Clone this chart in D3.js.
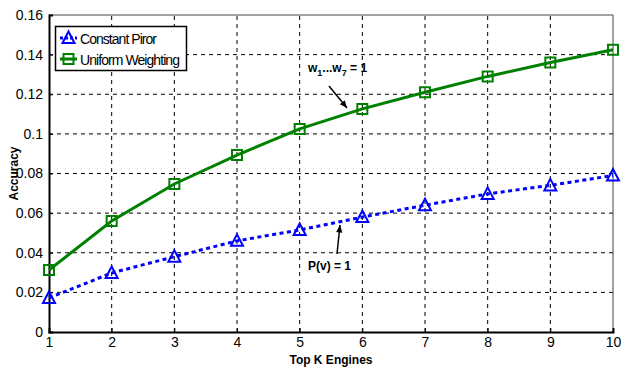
<!DOCTYPE html>
<html><head><meta charset="utf-8">
<script src="https://cdn.jsdelivr.net/npm/d3@7"></script>
<style>body{margin:0;background:#fff}svg{display:block}</style>
</head><body>
<script>
const kValues = [1,2,3,4,5,6,7,8,9,10];
const constantPrior = [0.0172,0.0298,0.038,0.046,0.0515,0.058,0.064,0.0697,0.074,0.079];
const uniformWeighting = [0.0313,0.056,0.0747,0.0893,0.1025,0.1126,0.121,0.129,0.136,0.1425];
const yTicks = [0,0.02,0.04,0.06,0.08,0.1,0.12,0.14,0.16];
const xTicks = [1,2,3,4,5,6,7,8,9,10];
const seriesNames = ["Constant Piror","Uniform Weighting"];

const W=621,H=368;
const m={l:49,r:8,t:15,b:36};
const svg=d3.select("body").append("svg").attr("width",W).attr("height",H);
const x=d3.scaleLinear().domain([1,10]).range([m.l,W-m.r]);
const y=d3.scaleLinear().domain([0,0.16]).range([H-m.b,m.t]);
const font="'Liberation Sans Narrow', 'Liberation Sans', Arial, sans-serif";
const bfont="'Liberation Sans', Arial, sans-serif";

// grid
const g=svg.append("g");
g.selectAll(".gx").data(xTicks.slice(1,-1)).join("line")
 .attr("x1",d=>x(d)).attr("x2",d=>x(d)).attr("y1",y(0)).attr("y2",y(0.16))
 .attr("stroke","#000").attr("stroke-width",1).attr("stroke-dasharray","4,4");
g.selectAll(".gy").data(yTicks.slice(1,-1)).join("line")
 .attr("x1",x(1)).attr("x2",x(10)).attr("y1",d=>y(d)).attr("y2",d=>y(d))
 .attr("stroke","#000").attr("stroke-width",1).attr("stroke-dasharray","4,4");

// frame top/right
svg.append("line").attr("x1",x(1)).attr("x2",x(10)).attr("y1",y(0.16)).attr("y2",y(0.16)).attr("stroke","#444").attr("stroke-width",1);
svg.append("line").attr("x1",x(10)).attr("x2",x(10)).attr("y1",y(0.16)).attr("y2",y(0)).attr("stroke","#444").attr("stroke-width",1);

// axes
const xa=svg.append("g").attr("transform",`translate(0,${y(0)})`)
 .call(d3.axisBottom(x).tickValues(xTicks).tickSize(-4).tickPadding(5).tickFormat(d3.format("d")));
const ya=svg.append("g").attr("transform",`translate(${x(1)},0)`)
 .call(d3.axisLeft(y).tickValues(yTicks).tickSize(-4).tickPadding(6).tickFormat(d=>d===0?"0":String(+d.toFixed(2))));
[xa,ya].forEach(a=>{
 a.select(".domain").attr("stroke","#000").attr("stroke-width",2);
 a.selectAll(".tick line").attr("stroke","#000");
 a.selectAll("text").attr("font-family",font).attr("font-size",14).attr("fill","#000");
});
xa.selectAll("text").attr("dy","0.71em");
ya.selectAll("text").attr("dy","0.32em");

// axis titles
svg.append("text").attr("x",(x(1)+x(10))/2).attr("y",364).attr("text-anchor","middle")
 .attr("font-family",bfont).attr("font-weight","bold").attr("font-size",12).text("Top K Engines");
svg.append("text").attr("transform",`translate(18,${(y(0)+y(0.16))/2}) rotate(-90)`).attr("text-anchor","middle")
 .attr("font-family",bfont).attr("font-weight","bold").attr("font-size",12).text("Accuracy");

// lines
const line=d3.line().x((d,i)=>x(kValues[i])).y(d=>y(d));
svg.append("path").datum(uniformWeighting).attr("d",line).attr("fill","none").attr("stroke","#008000").attr("stroke-width",3);
svg.append("path").datum(constantPrior).attr("d",line).attr("fill","none").attr("stroke","#0000ff").attr("stroke-width",3).attr("stroke-dasharray","4,3.5");

const tri="M0,-6.5L6,5L-6,5Z";
const sq="M-5,-5H5V5H-5Z";
svg.selectAll(".sq").data(uniformWeighting).join("path")
 .attr("transform",(d,i)=>`translate(${x(kValues[i])},${y(d)})`).attr("d",sq)
 .attr("fill","none").attr("stroke","#008000").attr("stroke-width",2);
svg.selectAll(".tr").data(constantPrior).join("path")
 .attr("transform",(d,i)=>`translate(${x(kValues[i])},${y(d)})`).attr("d",tri)
 .attr("fill","none").attr("stroke","#0000ff").attr("stroke-width",2);

// legend
const lg=svg.append("g");
lg.append("rect").attr("x",55.5).attr("y",26.5).attr("width",131).attr("height",44).attr("fill","#fff").attr("stroke","#000").attr("stroke-width",1.5);
lg.append("line").attr("x1",60).attr("x2",77).attr("y1",38).attr("y2",38).attr("stroke","#0000ff").attr("stroke-width",3).attr("stroke-dasharray","3,2");
lg.append("path").attr("transform","translate(68.5,38)").attr("d",tri).attr("fill","none").attr("stroke","#0000ff").attr("stroke-width",2);
lg.append("line").attr("x1",60).attr("x2",77).attr("y1",59).attr("y2",59).attr("stroke","#008000").attr("stroke-width",3);
lg.append("path").attr("transform","translate(68.5,59)").attr("d",sq).attr("fill","none").attr("stroke","#008000").attr("stroke-width",2);
lg.append("text").attr("x",80).attr("y",44).attr("font-family",font).attr("font-size",14).attr("textLength",77).text(seriesNames[0]);
lg.append("text").attr("x",80).attr("y",65).attr("font-family",font).attr("font-size",14).attr("textLength",100).text(seriesNames[1]);

// annotations
const arrow=(x1,y1,x2,y2)=>{
 svg.append("line").attr("x1",x1).attr("y1",y1).attr("x2",x2).attr("y2",y2).attr("stroke","#000").attr("stroke-width",1.5);
 const a=Math.atan2(y2-y1,x2-x1),L=8,w=0.4;
 svg.append("path").attr("d",`M${x2},${y2}L${x2-L*Math.cos(a-w)},${y2-L*Math.sin(a-w)}L${x2-L*Math.cos(a+w)},${y2-L*Math.sin(a+w)}Z`).attr("fill","#000");
};
const t1=svg.append("text").attr("x",308).attr("y",72).attr("font-family",bfont).attr("font-weight","bold").attr("font-size",12);
t1.append("tspan").text("w");
t1.append("tspan").attr("font-size",9).attr("dy",4).text("1");
t1.append("tspan").attr("dy",-4).text("...w");
t1.append("tspan").attr("font-size",9).attr("dy",4).text("7");
t1.append("tspan").attr("dy",-4).text(" = 1");
arrow(329,86,347,108);
svg.append("text").attr("x",308).attr("y",270).attr("font-family",bfont).attr("font-weight","bold").attr("font-size",12).text("P(v) = 1");
arrow(337,254,340,225);
</script>
</body></html>
